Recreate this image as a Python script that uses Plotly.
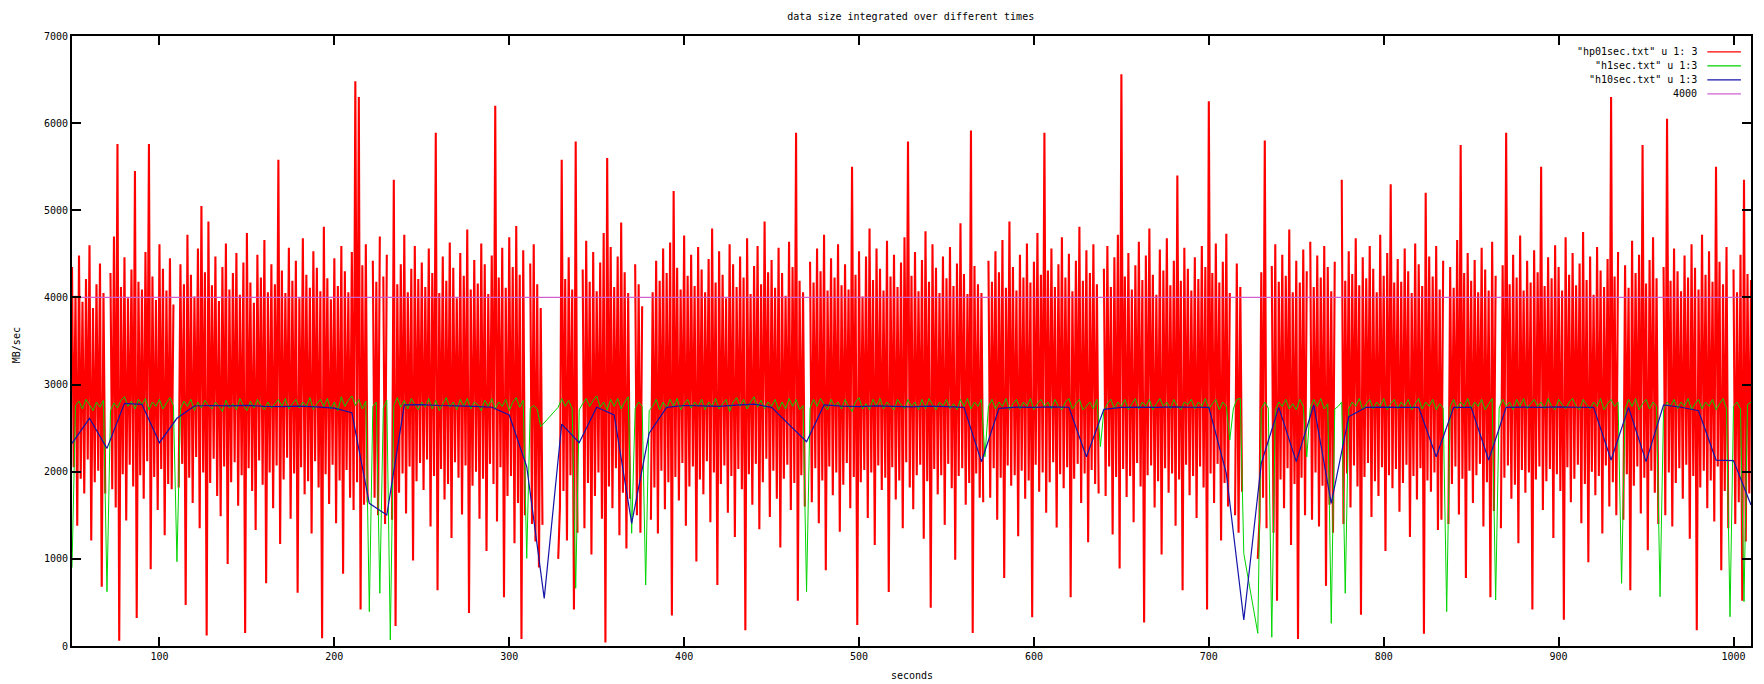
import plotly.graph_objects as go

TITLE = "data size integrated over different times"
X_LABEL = "seconds"
Y_LABEL = "MB/sec"
SERIES_NAMES = ['"hp01sec.txt" u 1: 3', '"h1sec.txt" u 1:3', '"h10sec.txt" u 1:3', '4000']
T_START = 50
T_END = 1010
THRESHOLD = 4000
X_TICKS = [100, 200, 300, 400, 500, 600, 700, 800, 900, 1000]
Y_TICKS = [0, 1000, 2000, 3000, 4000, 5000, 6000, 7000]

# hp01sec: upper excursions, one per even second (50, 52, ... 1010); None = no data
hp01_peaks = [
    4350, 4020, 4480, 3950, 4210, 4600, 3880, 4150, 4390, 4050, None, 4280, 4700, 5760, 4120, 4460, 3990, 4320, 5450, 4180,
    4090, 4520, 5760, 4240, 3970, 4610, 4330, 4080, 4450, 3920, None, 4380, 4150, 4720, 4260, 4010, 4560, 5050, 4290, 4870,
    4140, 4470, 3960, 4350, 4620, 4090, 4280, 4510, 4030, 4400, 4740, 4170, 3940, 4490, 4230, 4660, 4060, 4380, 4150, 5580,
    4310, 4050, 4570, 4190, 4420, 3990, 4680, 4260, 4110, 4530, 4340, 4070, 4810, 4220, 3980, 4450, 4130, 4590, 4300, 4060,
    4520, 6480, 6300, 4370, 4610, None, 4420, 4180, 4700, 4240, 4490, None, 5350, 4150, 4380, 4720, 4060, 4330, 4590, 4210,
    4400, 4120, 4560, 4280, 5890, 4050, 4470, 4190, 4630, 4340, 3990, 4510, 4250, 4780, 4090, 4430, 4160, 4620, 4380, 4040,
    4480, 6200, 4230, 4570, 4110, 4690, 4350, 4820, 4260, 4540, None, 4390, 4610, 4150, 3880, None, None, None, None, 1000,
    5580, 4210, 4460, 4090, 5790, None, 4320, 4650, 4180, 4520, 4070, 4400, 4740, 5600, 4580, 4120, 4470, 4860, 4290, 4050,
    None, 4380, 4150, 3900, None, None, 4060, 4420, 4190, 4560, 4280, 4630, 5220, 4340, 4090, 4710, 4250, 4490, 4130, 4580,
    4320, 4060, 4440, 4790, 4170, 4530, 4260, 3990, 4610, 4380, 4120, 4470, 4230, 4680, 4040, 4360, 4590, 4150, 4870, 4290,
    4430, 4110, 4570, 4280, 4020, 4640, 4350, 5890, 4190, 4060, None, 4410, 4170, 4560, 4300, 4720, 4080, 4450, 4230, 4610,
    4140, 4380, 4090, 5500, 4260, 4530, 4010, 4470, 4790, 4200, 4560, 4330, 4080, 4650, 4240, 4490, 4120, 4400, 4690, 5790,
    4250, 4520, 4070, 4430, 4760, 4180, 4610, 4340, 4050, 4470, 4220, 4580, 4130, 4390, 4850, 4270, 4040, 5915, 4360, 4150,
    4050, None, 4420, 4180, 4530, 4290, 4660, 4110, 4870, 4350, 4080, 4490, 4230, 4620, 4170, 4410, 4740, 4260, 5890, 4310,
    4560, 4120, 4380, 4690, 4230, 4500, 4070, 4420, 4810, 4190, 4540, 4280, 4610, 4150, None, 4330, 4590, 4120, 4460, 4720,
    6560, 4240, 4510, 4090, 4370, 4640, 4200, 4480, 4790, 4260, 4030, 4550, 4310, 4680, 4140, 4420, 5400, 4190, 4570, 4330,
    4080, 4460, 4210, 4590, 4350, 6250, 4280, 4620, 4170, 4410, 4730, 4050, None, 4390, 4120, None, None, None, None, 1000,
    4290, 5800, None, 4360, 4610, 4180, 4490, 4250, 4780, 4060, 4420, 4170, 4550, 4300, 4640, 4120, 4480, 4230, 4590, 4350,
    4070, 4410, None, 5350, 4190, 4530, 4270, 4680, 4140, 4460, 4220, 4590, 4330, 4060, 4720, 4250, 4510, 5300, 4170, 4440,
    4180, 4560, 4300, 4050, 4620, 4380, 4130, 5200, 4470, 4240, 4590, 4090, 4420, None, 4350, 4110, 4660, 5750, 4280, 4510,
    4190, 4430, 4060, 4570, 4320, 4080, 4640, 4250, None, 4370, 5890, 4150, 4490, 4230, 4710, 4080, 4420, 4170, 4540, 4290,
    5500, 4130, 4460, 4220, 4600, 4350, 4080, 4690, 4260, 4510, 4140, 4390, 4750, 4200, 4470, 4030, 4580, 4310, 4120, 4440,
    6300, 4240, 4520, None, 4370, 4110, 4650, 4280, 4490, 5750, 4160, 4430, 4690, 4220, None, 4350, 6050, 4190, 4560, 4300,
    4070, 4480, 4230, 4610, 4340, 4090, 4720, 4260, 4530, 4180, 5500, 4410, 4150, 4580, None, 4320, 4060, 4490, 5350, 4270,
    4200,
]

# hp01sec: lower excursions, one per odd second (51, 53, ... 1009); None = no data
hp01_troughs = [
    2050, 1380, 1920, 1750, 2140, 1210, 1880, 2010, 680, 1750, None, 1800, 1590, 60, 1970, 1440, 2080, 1830, 320, 1960,
    1690, 2120, 880, 1940, 1560, 2030, 1270, 1860, 1800, None, 1820, 2090, 470, 1930, 1640, 2170, 1350, 1990, 120, 1870,
    2150, 1720, 1490, 2060, 940, 1880, 2110, 1610, 1960, 150, 2040, 1780, 1330, 2130, 1850, 720, 1990, 1580, 2070, 1170,
    1910, 2160, 1460, 1980, 610, 2050, 1740, 1890, 1290, 2120, 1820, 90, 1970, 1630, 2080, 1410, 1900, 830, 2020, 1700,
    1560, 1880, 420, 1620, 1650, None, 1700, 1500, None, 1400, None, 1450, 230, 1760, 1980, 1520, 2060, 980, 1890, 2100,
    1790, 2140, 1370, 1950, 640, 2030, 1680, 1860, 1240, 2110, 1930, 1510, 2070, 380, 1840, 2000, 1460, 1920, 1090, 2090,
    1860, 1430, 2050, 560, 1720, 1950, 1180, 1640, 80, 1500, None, 1400, 1200, 900, 1390, None, None, None, None, 1600,
    1780, 1210, 1960, 420, 1300, None, 1350, 1870, 1050, 1720, 1990, 1460, 40, 1830, 1580, 2040, 1270, 1760, 1120, 1690,
    None, 1500, 1300, None, None, 1450, 1820, 1290, 2010, 1570, 1880, 350, 1940, 1670, 2100, 1380, 1830, 2060, 970, 1910,
    1740, 2120, 1420, 1990, 700, 1860, 2070, 1530, 1950, 1250, 2030, 1800, 180, 1970, 1620, 2090, 1340, 1880, 2150, 1480,
    2010, 1690, 1130, 1920, 2080, 1560, 1870, 520, 1960, 1600, None, 1650, 2040, 1410, 1900, 870, 2060, 1730, 1990, 1310,
    1850, 2100, 1580, 1940, 240, 1880, 2020, 1470, 1990, 1160, 2070, 1790, 1930, 620, 2050, 1680, 1900, 1350, 2110, 1820,
    1570, 1960, 2080, 1230, 1890, 440, 2030, 1740, 1960, 1390, 2090, 1810, 990, 1950, 2040, 1620, 1870, 150, 1980, 1700,
    1650, None, 1700, 2040, 1450, 1930, 780, 2070, 1840, 1960, 1260, 2010, 1690, 1900, 330, 2080, 1770, 1990, 1530, 1880,
    2110, 1360, 1970, 1810, 2050, 560, 1920, 2090, 1640, 1980, 1190, 2020, 1860, 1750, None, 1720, 2060, 1280, 1940, 890,
    2030, 1710, 1950, 1420, 2100, 1830, 270, 1960, 2070, 1590, 1890, 1050, 2040, 1760, 1980, 1380, 1910, 640, 2080, 1730,
    1950, 1470, 2060, 1820, 420, 1980, 1640, 2090, 1210, 1870, 1600, None, 1500, 1300, 1770, None, None, None, None, 1450,
    1700, 1350, None, 1300, 520, 1910, 1580, 2040, 1160, 1860, 80, 1930, 1500, None, 1450, 1990, 1370, 1840, 690, 1620,
    1300, None, None, 1400, 1980, 1590, 2070, 1830, 360, 1940, 2100, 1480, 1890, 1720, 2050, 1090, 1960, 1810, 2030, 1540,
    1870, 2080, 1250, 1950, 1680, 2040, 140, 1900, 1770, 1990, 1330, 1450, None, 1400, 1860, 2060, 1510, 1920, 780, 2010,
    1640, 1960, 2090, 1370, 1880, 560, 1550, None, 1350, 1930, 2070, 1690, 1850, 1180, 2020, 1760, 1990, 420, 1910, 2060,
    1560, 1890, 2030, 1240, 1970, 1780, 300, 2050, 1650, 1920, 2080, 1410, 1860, 960, 2000, 1730, 1950, 1290, 2070, 1600,
    1880, 1500, None, 1450, 1970, 640, 1840, 2060, 1520, 1930, 1100, 2010, 1760, 1400, None, 1500, 1990, 1370, 1870, 2040,
    1690, 2080, 1230, 1950, 180, 1820, 2010, 1580, 1900, 1430, 2060, 870, 1780, 1350, None, 1400, 1650, 520, 1200, 1750,
]

# h1sec: one value every 2 s (50, 52, ... 1010); None = no data
h1_values = [
    900, 2760, 2810, 2720, 2830, 2770, 2700, 2800, 2740, 2820, 623, 2700, 2790, 2730, 2820, 2860, 2750, 2810, 2720, 2830,
    2770, 2840, 2710, 2800, 2750, 2830, 2720, 2790, 2850, 2760, 968, 2720, 2810, 2750, 2830, 2700, 2800, 2730, 2820, 2760,
    2720, 2800, 2750, 2690, 2820, 2730, 2780, 2710, 2840, 2760, 2700, 2810, 2730, 2830, 2760, 2710, 2800, 2730, 2780, 2830,
    2750, 2840, 2720, 2780, 2830, 2730, 2800, 2750, 2850, 2710, 2780, 2830, 2750, 2840, 2720, 2800, 2700, 2860, 2750, 2820,
    2870, 2760, 2830, 2720, 2810, 394, 2750, 2800, 605, 2730, 2820, 69, 2760, 2850, 2740, 2820, 2720, 2840, 2770, 2710,
    2800, 2740, 2840, 2720, 2820, 2700, 2780, 2850, 2740, 2800, 2710, 2830, 2750, 2840, 2720, 2800, 2770, 2700, 2820, 2750,
    2840, 2720, 2800, 2750, 2830, 2700, 2800, 2850, 2740, 2820, 1006, 2730, 2760, 2720, 2517, None, None, None, None, 2740,
    2840, 2750, 2820, 2720, 662, 2710, 2780, 2840, 2750, 2820, 2870, 2740, 2800, 2710, 2830, 2750, 2840, 2720, 2800, 2860,
    1293, 2730, 2800, 2750, 700, 2700, 2750, 2830, 2710, 2800, 2730, 2830, 2750, 2840, 2710, 2780, 2830, 2730, 2800, 2750,
    2830, 2710, 2800, 2750, 2840, 2720, 2780, 2830, 2690, 2800, 2850, 2750, 2830, 2720, 2800, 2860, 2740, 2820, 2720, 2800,
    2750, 2830, 2710, 2800, 2720, 2840, 2750, 2830, 2710, 2760, 623, 2730, 2830, 2750, 2840, 2770, 2710, 2830, 2750, 2800,
    2720, 2830, 2750, 2690, 2800, 2850, 2720, 2780, 2710, 2830, 2750, 2840, 2720, 2800, 2750, 2710, 2830, 2770, 2720, 2830,
    2750, 2800, 2710, 2830, 2720, 2840, 2770, 2710, 2800, 2750, 2830, 2720, 2780, 2710, 2830, 2750, 2840, 2720, 2800, 2750,
    2830, 2172, 2750, 2830, 2720, 2800, 2750, 2840, 2710, 2780, 2830, 2720, 2800, 2750, 2840, 2710, 2780, 2830, 2750, 2800,
    2720, 2830, 2750, 2710, 2800, 2840, 2720, 2780, 2830, 2710, 2750, 2800, 2720, 2830, 2287, 2700, 2780, 2830, 2720, 2800,
    2750, 2830, 2710, 2780, 2840, 2720, 2800, 2750, 2830, 2710, 2780, 2840, 2750, 2800, 2720, 2830, 2750, 2710, 2800, 2770,
    2830, 2720, 2800, 2750, 2840, 2720, 2780, 2830, 2710, 2800, 2750, 2364, 2720, 2830, 2840, 1060, None, None, None, 146,
    2720, 2800, 2730, 100, 2710, 2800, 2750, 2830, 2720, 2780, 2710, 2830, 2750, 2170, 2730, 2830, 2750, 2840, 2720, 2780,
    260, 2720, 2750, 2800, 605, 2720, 2800, 2750, 2840, 2710, 2780, 2830, 2720, 2800, 2750, 2840, 2710, 2780, 2830, 2720,
    2800, 2750, 2830, 2710, 2780, 2840, 2720, 2800, 2750, 2830, 2710, 2780, 2730, 394, 2750, 2830, 2720, 2800, 2750, 2840,
    2720, 2800, 2750, 2830, 2710, 2780, 2840, 528, 2730, 2830, 2750, 2800, 2710, 2830, 2750, 2840, 2720, 2780, 2830, 2750,
    2800, 2720, 2840, 2750, 2710, 2830, 2770, 2720, 2800, 2840, 2750, 2710, 2830, 2770, 2720, 2800, 2750, 2840, 2710, 2780,
    2830, 2750, 2800, 719, 2720, 2830, 2750, 2840, 2710, 2780, 2830, 2720, 2800, 2750, 566, 2710, 2800, 2750, 2830, 2720,
    2800, 2750, 2840, 2710, 2780, 2830, 2720, 2800, 2750, 2830, 2710, 2780, 2840, 2720, 336, 2750, 2800, 2720, 509, 2770,
    2800,
]

# h10sec: one value every 10 s (50, 60, ... 1010)
h10_values = [
    2326, 2613, 2268, 2785, 2773, 2333, 2613, 2754, 2760, 2755,
    2762, 2750, 2748, 2752, 2745, 2730, 2677, 1637, 1503, 2766,
    2770, 2760, 2755, 2750, 2740, 2651, 2058, 547, 2547, 2333,
    2739, 2651, 1408, 2441, 2739, 2760, 2755, 2750, 2765, 2775,
    2739, 2540, 2345, 2766, 2752, 2748, 2756, 2750, 2745, 2752,
    2748, 2739, 2115, 2727, 2742, 2738, 2745, 2740, 2172, 2716,
    2739, 2742, 2738, 2745, 2740, 2739, 1981, 298, 2096, 2739,
    2115, 2766, 1637, 2631, 2739, 2742, 2738, 2740, 2172, 2739,
    2739, 2134, 2739, 2742, 2738, 2745, 2740, 2739, 2134, 2739,
    2115, 2766, 2740, 2700, 2134, 2127, 1618,
]

assert len(hp01_peaks) == 481 and len(hp01_troughs) == 480
assert len(h1_values) == 481 and len(h10_values) == 97

red_x, red_y = [], []
for i, p in enumerate(hp01_peaks):
    red_x.append(T_START + 2 * i)
    red_y.append(p)
    if i < len(hp01_troughs):
        red_x.append(T_START + 2 * i + 1)
        red_y.append(hp01_troughs[i])

green_x = [T_START + 2 * i for i in range(len(h1_values))]
blue_x = [T_START + 10 * i for i in range(len(h10_values))]

COLORS = ["#ff0000", "#00d400", "#1414a8", "#d060d0"]
FONT = "DejaVu Sans Mono"

fig = go.Figure()
fig.add_trace(go.Scatter(x=red_x, y=red_y, mode="lines", name=SERIES_NAMES[0],
                         line=dict(color=COLORS[0], width=2.1, simplify=False), connectgaps=False))
fig.add_trace(go.Scatter(x=green_x, y=h1_values, mode="lines", name=SERIES_NAMES[1],
                         line=dict(color=COLORS[1], width=1, simplify=False), connectgaps=True))
fig.add_trace(go.Scatter(x=blue_x, y=h10_values, mode="lines", name=SERIES_NAMES[2],
                         line=dict(color=COLORS[2], width=1.2, simplify=False)))
fig.add_trace(go.Scatter(x=[T_START, T_END], y=[THRESHOLD, THRESHOLD], mode="lines",
                         name=SERIES_NAMES[3], line=dict(color=COLORS[3], width=1.2)))

# gnuplot-style key: text on the left, line sample on the right
rows = [0.974, 0.951, 0.928, 0.905]
for name, col, yy in zip(SERIES_NAMES, COLORS, rows):
    fig.add_annotation(x=0.969, y=yy, xref="paper", yref="paper", text=name,
                       showarrow=False, xanchor="right", yanchor="middle",
                       font=dict(family=FONT, size=10, color="black"))
    fig.add_shape(type="line", xref="paper", yref="paper", x0=0.974, x1=0.994,
                  y0=yy, y1=yy, line=dict(color=col, width=1.2))

fig.add_annotation(x=0.5, y=-0.049, xref="paper", yref="paper", text=X_LABEL,
                   showarrow=False, xanchor="center", yanchor="middle",
                   font=dict(family=FONT, size=10, color="black"))
fig.add_annotation(x=-0.0334, y=0.493, xref="paper", yref="paper", text=Y_LABEL,
                   showarrow=False, textangle=-90, xanchor="center", yanchor="middle",
                   font=dict(family=FONT, size=10, color="black"))

axis_common = dict(showgrid=False, zeroline=False, showline=True, linecolor="black",
                   linewidth=2, mirror="ticks", ticks="inside", ticklen=9, tickwidth=2,
                   tickcolor="black", tickfont=dict(family=FONT, size=10, color="black"))

fig.update_layout(
    width=1764, height=684,
    margin=dict(l=72, r=13, t=36, b=38),
    paper_bgcolor="white", plot_bgcolor="white",
    showlegend=False,
    title=dict(text=TITLE, x=0.5163, xanchor="center", y=1 - 16 / 684, yanchor="middle",
               font=dict(family=FONT, size=10, color="black")),
    xaxis=dict(range=[T_START, T_END], tickvals=X_TICKS, **axis_common),
    yaxis=dict(range=[Y_TICKS[0], Y_TICKS[-1]], tickvals=Y_TICKS, **axis_common),
)

fig.write_html("out.html", config={"displayModeBar": False},
               post_script="document.body.style.margin='0px';document.body.style.overflow='hidden';")
